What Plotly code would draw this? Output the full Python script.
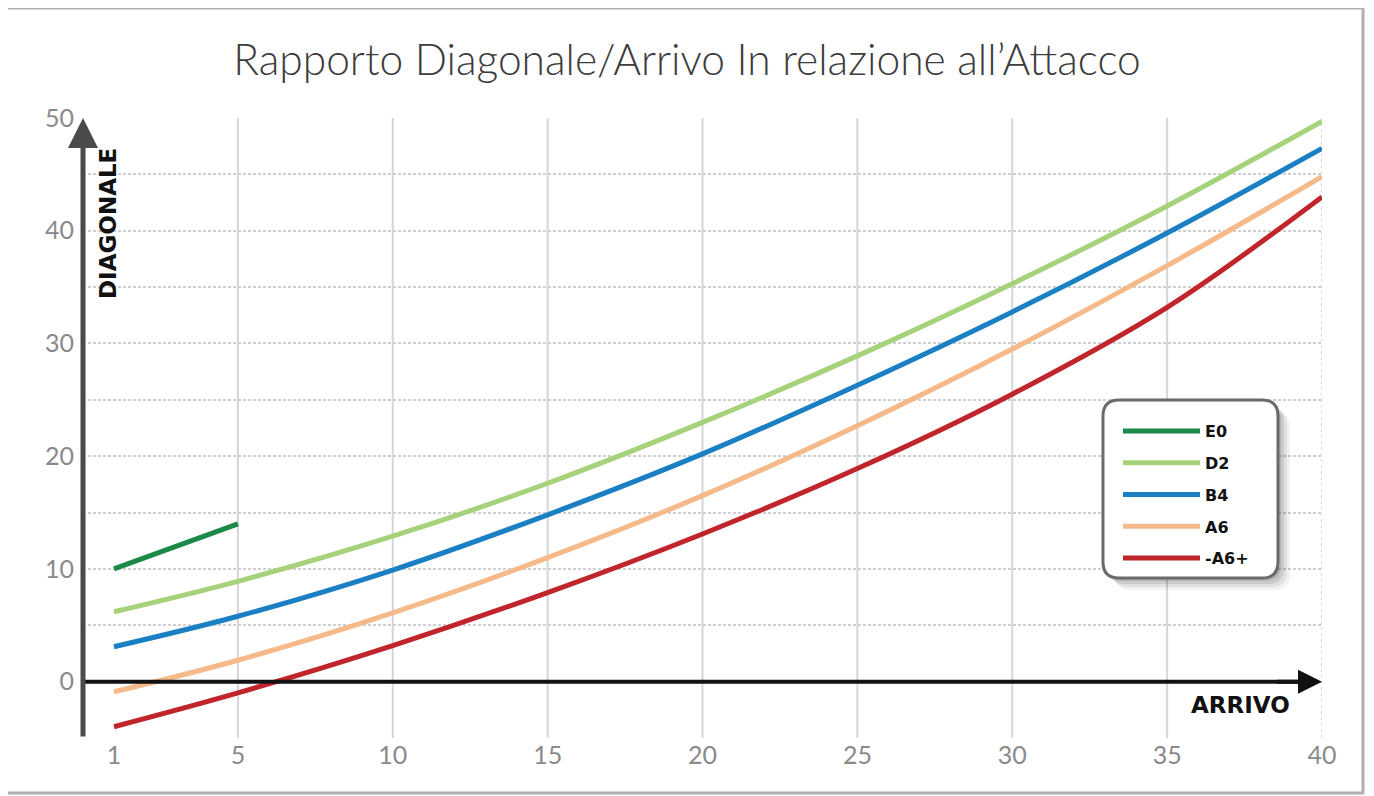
import plotly.graph_objects as go

# ---- data ----
arrivo = [1, 5, 10, 15, 20, 25, 30, 35, 40]
e0_x = [1, 5]
e0_y = [10.0, 14.0]
d2 = [6.2, 8.9, 12.9, 17.6, 23.0, 28.9, 35.3, 42.2, 49.7]
b4 = [3.1, 5.8, 9.9, 14.8, 20.2, 26.3, 32.8, 39.8, 47.3]
a6 = [-0.9, 1.9, 6.1, 11.0, 16.5, 22.7, 29.5, 36.9, 44.8]
a6pm = [-4.0, -1.0, 3.2, 7.9, 13.1, 18.9, 25.5, 33.2, 43.0]

x_ticks = [1, 5, 10, 15, 20, 25, 30, 35, 40]
y_ticks = [-5, 0, 5, 10, 15, 20, 25, 30, 35, 40, 45, 50]
y_ticktext = ["", "0", "", "10", "", "20", "", "30", "", "40", "", "50"]
v_grid = [5, 10, 15, 20, 25, 30, 35]

# page offset (browser body margin)
OX, OY = 8, 8
W, H = 1374, 796
# plot area in screen pixels: x 83..1322, y 118..738
SX0, SX1, SY0, SY1 = 83, 1322, 118, 738
ML, MT = SX0 - OX, SY0 - OY
MR = W - (SX1 - OX)
MB = H - (SY1 - OY)
PW, PH = SX1 - SX0, SY1 - SY0


def P(px, py):
    """screen pixel -> paper coords"""
    return (px - SX0) / PW, (SY1 - py) / PH


def rrect(x0, y0, x1, y1, r):
    def p(a, b):
        u, v = P(a, b)
        return f"{u:.5f},{v:.5f}"
    s = f"M {p(x0 + r, y0)} L {p(x1 - r, y0)} Q {p(x1, y0)} {p(x1, y0 + r)} "
    s += f"L {p(x1, y1 - r)} Q {p(x1, y1)} {p(x1 - r, y1)} "
    s += f"L {p(x0 + r, y1)} Q {p(x0, y1)} {p(x0, y1 - r)} "
    s += f"L {p(x0, y0 + r)} Q {p(x0, y0)} {p(x0 + r, y0)} Z"
    return s


fig = go.Figure()

series = [
    ("E0", e0_x, e0_y, "#1b8a48"),
    ("D2", arrivo, d2, "#a6d27b"),
    ("B4", arrivo, b4, "#1b7fc4"),
    ("A6", arrivo, a6, "#f5b98a"),
    ("-A6+", arrivo, a6pm, "#c1252c"),
]
for i, (name, xs, ys, col) in enumerate(series):
    fig.add_trace(go.Scatter(
        x=xs, y=ys, mode="lines", name=name, legendgroup=f"g{i}",
        line=dict(color=col, width=5, shape="spline", smoothing=1.0),
    ))

shapes = []
# outer frame
fx0, fy0 = P(6, 8)
fx1, fy1 = P(1363, 793)
shapes.append(dict(type="rect", xref="paper", yref="paper", x0=fx0, y0=fy1, x1=fx1, y1=fy0,
                   line=dict(color="#b0b0b0", width=3), layer="below"))
# vertical grid lines
for v in v_grid:
    shapes.append(dict(type="line", xref="x", yref="y", x0=v, x1=v, y0=-5, y1=50,
                       line=dict(color="#d6d6d6", width=2), layer="below"))
shapes.append(dict(type="line", xref="x", yref="y", x0=40, x1=40, y0=-5, y1=50,
                   line=dict(color="#dcdcdc", width=2, dash="3px,3px"), layer="below"))
# x axis line (black)
shapes.append(dict(type="line", xref="x", yref="y", x0=0, x1=39.3, y0=0, y1=0,
                   line=dict(color="#111111", width=4), layer="above"))
# legend box with shadow
bx0, by0, bx1, by1 = 1103, 400, 1278, 578
for k, a in [(12, 0.05), (9, 0.07), (6, 0.09), (3, 0.11)]:
    shapes.append(dict(type="path", xref="paper", yref="paper",
                       path=rrect(bx0 + k, by0 + k, bx1 + k, by1 + k, 16),
                       fillcolor=f"rgba(0,0,0,{a})", line=dict(width=0), layer="above"))
shapes.append(dict(type="path", xref="paper", yref="paper",
                   path=rrect(bx0, by0, bx1, by1, 16),
                   fillcolor="white", line=dict(color="#6a6a6a", width=3), layer="above"))

annotations = [
    # y axis arrow
    dict(x=0, y=50, ax=0, ay=-5, xref="x", yref="y", axref="x", ayref="y",
         text="", showarrow=True, arrowhead=2, arrowsize=1.2, arrowwidth=5,
         arrowcolor="#4a4a4a", standoff=0),
    # x axis arrow head
    dict(x=40, y=0, ax=38.5, ay=0, xref="x", yref="y", axref="x", ayref="y",
         text="", showarrow=True, arrowhead=2, arrowsize=1.2, arrowwidth=4,
         arrowcolor="#111111", standoff=0),
    dict(x=P(108, 224)[0], y=P(108, 224)[1], xref="paper", yref="paper",
         xanchor="center", yanchor="middle",
         text="<b>DIAGONALE</b>", textangle=-90, showarrow=False,
         font=dict(family="DejaVu Sans", size=23, color="#111111")),
    dict(x=P(1240, 705)[0], y=P(1240, 705)[1], xref="paper", yref="paper",
         xanchor="center", yanchor="middle",
         text="<b>ARRIVO</b>", showarrow=False,
         font=dict(family="DejaVu Sans", size=23, color="#111111")),
]

lx, ly = P(1118, 414)
fig.update_layout(
    width=W, height=H,
    margin=dict(l=ML, r=MR, t=MT, b=MB),
    paper_bgcolor="white", plot_bgcolor="white",
    title=dict(text="Rapporto Diagonale/Arrivo In relazione all\u2019Attacco",
               x=(687 - OX) / W, xref="container", xanchor="center",
               y=1 - (60 - OY) / H, yref="container", yanchor="middle",
               font=dict(family="Lato", size=42.5, color="#3c3c3c", weight=300)),
    xaxis=dict(range=[0, 40], tickvals=x_ticks, showgrid=False, zeroline=False,
               showline=False, ticks="",
               tickfont=dict(family="Lato", size=25, color="#8a8a8a")),
    yaxis=dict(range=[-5, 50], tickvals=y_ticks, ticktext=y_ticktext,
               showgrid=True, gridcolor="#cfcfcf", gridwidth=2, griddash="3px,2px",
               zeroline=False, showline=False, ticks="", ticklabelstandoff=8,
               tickfont=dict(family="Lato", size=25, color="#8a8a8a")),
    shapes=shapes,
    annotations=annotations,
    showlegend=True,
    legend=dict(x=lx, y=ly, xanchor="left", yanchor="top",
                bgcolor="rgba(0,0,0,0)", borderwidth=0, tracegroupgap=8,
                itemwidth=77,
                font=dict(family="DejaVu Sans", size=16, color="#111111", weight="bold")),
)

fig.write_html("out.html")
